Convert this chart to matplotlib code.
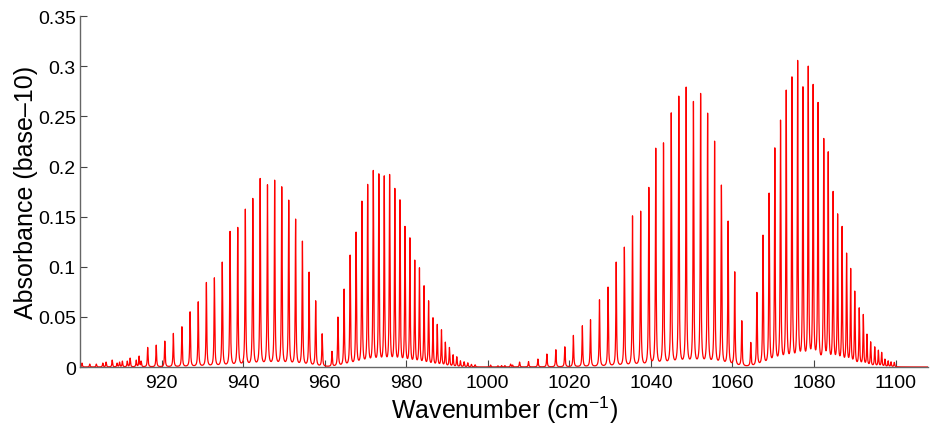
import numpy as np
import matplotlib
matplotlib.use("Agg")
import matplotlib.pyplot as plt

plt.rcParams["font.family"] = ["Liberation Sans", "DejaVu Sans"]
plt.rcParams["mathtext.default"] = "regular"

# Line centres (cm^-1) and peak absorbance
weak_nu = [900.5, 902.4, 904.0, 905.6, 906.4, 907.9, 909.1, 909.7, 910.4,
           911.6, 912.3, 913.8, 914.5, 915.0]
weak_h = [0.004, 0.003, 0.003, 0.004, 0.005, 0.007, 0.004, 0.005, 0.006,
          0.006, 0.009, 0.007, 0.011, 0.006]

p1_nu = [916.6, 918.7, 920.8, 922.9, 925.0, 927.0, 929.0, 931.0, 932.96,
         934.89, 936.8, 938.69, 940.55, 942.38, 944.19, 945.98, 947.74,
         949.48, 951.19, 952.88, 954.55, 956.19, 957.8, 959.39]
p1_h = [0.0196, 0.0219, 0.0259, 0.0336, 0.0402, 0.0551, 0.0651, 0.0844,
        0.0890, 0.1047, 0.1353, 0.1393, 0.1575, 0.1682, 0.1881, 0.1818,
        0.1864, 0.1798, 0.1665, 0.1476, 0.1256, 0.0947, 0.0661, 0.0332]

r1_nu = [961.8, 963.26, 964.77, 966.25, 967.71, 969.14, 970.55, 971.93,
         973.29, 974.62, 975.93, 977.21, 978.47, 979.7, 980.91, 982.1,
         983.25, 984.38, 985.49, 986.57, 987.62, 988.65, 989.6, 990.6,
         991.5, 992.4, 993.3, 994.2, 995.1, 996.0, 996.9]
r1_h = [0.0157, 0.0499, 0.0778, 0.1117, 0.1346, 0.1655, 0.1822, 0.1961,
        0.1927, 0.1907, 0.1921, 0.1782, 0.1668, 0.1403, 0.1289, 0.1067,
        0.0990, 0.0811, 0.0661, 0.0492, 0.0426, 0.0372, 0.0249, 0.0196,
        0.0123, 0.0103, 0.0063, 0.0053, 0.0043, 0.0027, 0.0023]

gap_nu = [1000.7, 1002.5, 1003.4, 1004.2, 1005.6, 1006.1, 1007.8, 1010.0,
          1012.3, 1014.5, 1016.7, 1018.9]
gap_h = [0.002, 0.0013, 0.0015, 0.0015, 0.003, 0.002, 0.0050, 0.0055,
         0.0080, 0.0130, 0.0173, 0.0202]

p2_nu = [1021.0, 1023.2, 1025.2, 1027.4, 1029.5, 1031.5, 1033.5, 1035.5,
         1037.5, 1039.5, 1041.2, 1043.1, 1045.0, 1046.85, 1048.66, 1050.44,
         1052.2, 1053.92, 1055.63, 1057.3, 1058.95, 1060.57]
p2_h = [0.0316, 0.0412, 0.0472, 0.0671, 0.0798, 0.1047, 0.1196, 0.1508,
        0.1555, 0.1792, 0.2183, 0.2236, 0.2535, 0.2702, 0.2792, 0.2649,
        0.2729, 0.2532, 0.2253, 0.1815, 0.1456, 0.0950]

r2_nu = [1062.3, 1064.5, 1066.0, 1067.5, 1069.0, 1070.4, 1071.8, 1073.2,
         1074.6, 1076.0, 1077.3, 1078.6, 1079.8, 1081.0, 1082.4, 1083.5,
         1084.7, 1085.8, 1086.9, 1088.0, 1089.0, 1090.0, 1091.1, 1092.1,
         1093.0, 1093.9, 1094.9, 1095.8, 1096.6, 1097.4, 1098.2, 1098.9,
         1099.7]
r2_h = [0.0462, 0.0246, 0.0745, 0.1316, 0.1735, 0.2186, 0.2463, 0.2762,
        0.2894, 0.3058, 0.2795, 0.3001, 0.2819, 0.2639, 0.2280, 0.2147,
        0.1752, 0.1528, 0.1403, 0.1137, 0.0984, 0.0758, 0.0591, 0.0525,
        0.0329, 0.0252, 0.0202, 0.0169, 0.0147, 0.0080, 0.0063, 0.0053,
        0.0047]

x_ticks = [920, 940, 960, 980, 1000, 1020, 1040, 1060, 1080, 1100]
y_ticks = [0, 0.05, 0.1, 0.15, 0.2, 0.25, 0.3, 0.35]
y_labels = ["0", "0.05", "0.1", "0.15", "0.2", "0.25", "0.3", "0.35"]

# Lorentzian line shape, amplitudes solved so peaks hit the read heights
centres = np.array(weak_nu + p1_nu + r1_nu + gap_nu + p2_nu + r2_nu)
heights = np.array(weak_h + p1_h + r1_h + gap_h + p2_h + r2_h)
hwhm = 0.1


def lorentz(d):
    return 1.0 / (1.0 + (d / hwhm) ** 2)


M = lorentz(centres[:, None] - centres[None, :])
amps = np.linalg.solve(M, heights)
nu = np.arange(900.0, 1108.0, 0.01)
absorb = (amps[None, :] * lorentz(nu[:, None] - centres[None, :])).sum(axis=1)

fig = plt.figure(figsize=(9.3, 4.27), dpi=100)
ax = fig.add_axes([0.086, 0.138, 0.912, 0.822])
ax.plot(nu, absorb, color="red", linewidth=0.9)

ax.set_xlim(900, 1108)
ax.set_ylim(0, 0.35)
ax.set_xticks(x_ticks)
ax.set_yticks(y_ticks)
ax.set_yticklabels(y_labels)
ax.tick_params(direction="in", length=5, width=0.8, color="#444444",
               labelsize=14, pad=3)
ax.tick_params(axis="x", pad=5)
for side in ["top", "right"]:
    ax.spines[side].set_visible(False)
for side in ["left", "bottom"]:
    ax.spines[side].set_color("#666666")
    ax.spines[side].set_linewidth(1.0)

ax.set_xlabel("Wavenumber (cm$^{-1}$)", fontsize=18, labelpad=2)
ax.set_ylabel("Absorbance (base–10)", fontsize=18, labelpad=0)

fig.savefig("out.png", dpi=100)
